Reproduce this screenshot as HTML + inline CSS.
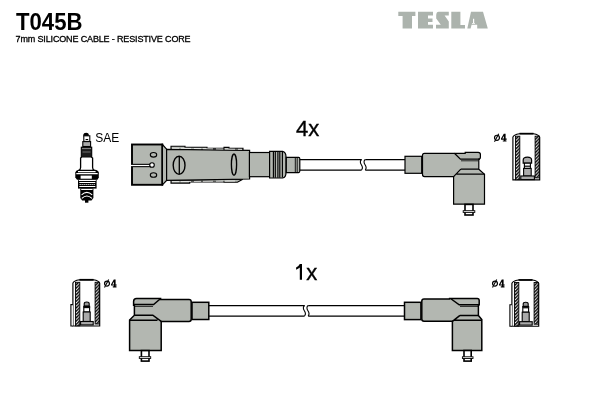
<!DOCTYPE html>
<html><head><meta charset="utf-8">
<style>
html,body{margin:0;padding:0;background:#fff;width:600px;height:400px;overflow:hidden}
svg{display:block;will-change:transform}
text{font-family:"Liberation Sans",sans-serif}
</style></head><body>
<svg width="600" height="400" viewBox="0 0 600 400">
<rect width="600" height="400" fill="#fff"/>
<!-- header -->
<text x="16" y="30" font-size="23" font-weight="bold" textLength="66.5" lengthAdjust="spacingAndGlyphs" fill="#000">T045B</text>
<text x="15.6" y="41.8" font-size="9" textLength="175" lengthAdjust="spacing" fill="#000" stroke="#000" stroke-width="0.3">7mm SILICONE CABLE - RESISTIVE CORE</text>
<!-- TESLA logo -->
<g fill="#acb3ad">
  <path d="M398.3 11.8H415.4V16H412V28.4H402.6V16H398.3Z"/>
  <path d="M418 11.8H433V15.5H428V18.6H432.5V22.1H428V24.8H433V28.4H418Z"/>
  <path d="M438.6 11.8H448.8V15.5H444.6L448.8 21.6V28.4H436V24.8H440.8L436.2 18.6V15.2Q436.4 11.8 438.6 11.8Z"/>
  <path d="M451.3 11.8H460.4V24.9H465V28.4H451.3Z"/>
  <path fill-rule="evenodd" d="M471 11.8H483L487.8 28.4H477.2V24.8H471.6L470.6 28.4H467.3ZM473 18.7H474.2V23H475V23.8H472V23H473Z"/>
</g>

<!-- ===== top row ===== -->
<!-- spark plug -->
<g stroke="#000" fill="#fff">
  <path d="M83.4 136.5V134.6Q83.4 132.7 86.1 132.7Q88.8 132.7 88.8 134.6V136.5Z" fill="#000" stroke="none"/>
  <rect x="83.8" y="135.8" width="6" height="5.6" stroke-width="1.1"/>
  <path d="M85.6 139.5H88.2" stroke-width="1"/>
  <rect x="82.8" y="141.6" width="7.8" height="4.9" stroke-width="1.1" fill="#a9a9a9"/>
  <rect x="81.3" y="147.2" width="10.4" height="10" fill="#1a1a1a" stroke-width="1.1"/>
  <path d="M82 148.6H91" stroke="#aaa" stroke-width="0.8"/>
  <path d="M82.5 152H90.5" stroke="#555" stroke-width="1.5"/>
  <path d="M78.6 170.6Q80.6 169.8 80.6 167.5V158L82 156.8H91L92.6 158V167.5Q92.6 169.8 94.6 170.6" stroke-width="1.3"/>
  <path d="M78.5 169.8H95Q98.4 170.3 98.8 172.5V177.5L97.5 179.8H77L75.3 177.5V172.5Q75.7 170.3 78.5 169.8Z" fill="#000" stroke="none"/>
  <path d="M78 171.6H95.6M76.3 173.7H97.7" stroke="#fff" stroke-width="1.3"/>
  <rect x="80.6" y="175.6" width="11.2" height="3.1" fill="#fff" stroke="none"/>
  <path d="M78 179.6H96.6V188.6H78Z" fill="#000" stroke="none"/>
  <path d="M78.8 180.5H95.8M79.3 182.5H95.3M79.3 186.5H95.3" stroke="#fff" stroke-width="1"/>
  <path d="M79.6 184.5H95.5" stroke="#fff" stroke-width="1" stroke-dasharray="1.1 0.9"/>
  <path d="M80.3 188.4H93.4V198L91.5 200.6H82.2L80.3 198Z" fill="#000" stroke="none"/>
  <path d="M81.2 189.5H92.6" stroke="#fff" stroke-width="1"/>
  <path d="M81.6 194.8Q86.8 189.8 92.2 194.8M81.8 198.4Q86.8 193.6 92 198.4" stroke="#fff" stroke-width="1.1" fill="none"/>
  <rect x="85" y="200" width="3.4" height="2.7" fill="#000" stroke="none"/>
</g>
<text x="95.3" y="142" font-size="12" fill="#000">SAE</text>

<!-- straight boot -->
<g stroke="#000" fill="#b3b7b1">
  <rect x="132" y="144.5" width="30.3" height="40.3" stroke-width="1.9"/>
  <path d="M132 165.5H151" stroke="#000" stroke-width="3.4"/>
  <path d="M130 165.5H151" stroke="#fff" stroke-width="1.2"/>
  <circle cx="152" cy="165" r="2.3" fill="#fff" stroke-width="1.1"/>
  <ellipse cx="153.5" cy="154.8" rx="3.2" ry="2.3" stroke-width="1.1"/>
  <ellipse cx="153.5" cy="175" rx="3.2" ry="2.3" stroke-width="1.1"/>
  <path d="M162.4 144.5L166.6 149.2V180.5L162.4 184.8Z" stroke-width="1.2"/>
  <path d="M171 150V146.2H185V147.3H207V148.2H224V147.4H229V148.3H243V150.6Z" stroke-width="1.1"/>
  <path d="M171 180.4V183.1H189.7V182H224V182.3H237.4L242.8 179.2Z" stroke-width="1.1"/>
  <path d="M166.6 149.4L249.6 150.4V179L166.6 180.4Z" stroke-width="1.2"/>
  <path d="M172 148.1L242 149.4M172 181.7L237 181" stroke="#fff" stroke-width="0.7" stroke-dasharray="7 2 10 3"/>
  <ellipse cx="179.1" cy="165.3" rx="5.9" ry="9.1" stroke-width="1.4"/>
  <path d="M179.3 156.8V174" stroke-width="1.3"/>
  <ellipse cx="234" cy="164.6" rx="2.6" ry="10.6" stroke-width="1.35"/>
  <rect x="249.4" y="152.5" width="20.6" height="24.2" stroke-width="1.2"/>
  <path d="M269.6 151.4H282.6Q286 152 286 157V172.4Q286 177.4 282.6 178H269.6Z" stroke-width="1.2"/>
  <path d="M273.4 151.6V177.8M275.3 151.6V177.8M277.9 151.6V177.8M279.8 151.6V177.8M282.4 151.8V177.6" stroke-width="1.15"/>
  <path d="M286.3 157.3H298.6Q299.8 157.3 299.8 158.8V171.1Q299.8 172.6 298.6 172.6H286.3Z" stroke-width="1.2"/>
  <path d="M295.3 157.3V172.6M297.2 157.6V172.3" stroke-width="0.9"/>
</g>
<!-- cable top -->
<g stroke="#000" stroke-width="1.25" fill="none">
  <path d="M299.8 159.5H361.6M365.3 159.5H405M299.8 170H361.6M365.3 170H405"/>
  <path d="M361.6 159.5C360 160.5 360 162.8 361.2 164.5C362.4 166.2 362.6 168.8 361.5 170M365.3 159.5C363.7 160.5 363.7 162.8 364.9 164.5C366.1 166.2 366.3 168.8 365.2 170" stroke-width="1.1"/>
</g>
<!-- right elbow top -->
<g stroke="#000" fill="#b3b7b1" stroke-width="1.2">
  <rect x="405" y="156.3" width="16.7" height="17" />
  <path d="M424.5 153.3H465.2V152.4H478.2Q480.4 152.4 480.4 154.6V157Q480.4 159.2 478.8 159.2V169.2L484.5 174.2V204.2H453.6V176.6H424.5Q422.5 176.6 422.5 174.6V155.3Q422.5 153.3 424.5 153.3Z"/>
  <path d="M454.4 153.3L460.4 159.2H480M460.8 169.2H478.8M460.8 169.2L453.6 176.6M456.5 174.2H484.5" fill="none"/>
  <path d="M461 160.8H478.4" fill="none" stroke-width="0.8"/>
</g>
<g stroke="#000" fill="#fff">
  <rect x="465" y="204.4" width="8" height="10.6" stroke-width="1.6"/>
  <rect x="463.2" y="210.7" width="11.6" height="1.7" stroke-width="0.9"/>
</g>
<!-- terminals -->
<defs>
  <pattern id="hatch" patternUnits="userSpaceOnUse" width="3.3" height="3.3">
    <rect width="3.3" height="3.3" fill="#fff"/>
    <path d="M-0.825 0.825L0.825 -0.825M0 3.3L3.3 0M2.475 4.125L4.125 2.475" stroke="#000" stroke-width="1.35"/>
  </pattern>
  <g id="term">
    <path d="M0.9 47V4.2Q1.6 1.7 7.5 0.8H21.5Q26.9 1.7 27.7 4.2V47Z" fill="#fff" stroke="#000" stroke-width="1.15"/>
    <path d="M7.5 0.75H21.5" stroke="#000" stroke-width="1.7"/>
    <rect x="3.5" y="3.3" width="4.3" height="43.5" fill="url(#hatch)" stroke="#000" stroke-width="0.9"/>
    <rect x="23.1" y="3.3" width="4.2" height="41.7" fill="url(#hatch)" stroke="#000" stroke-width="0.9"/>
  </g>
  <g id="pinA">
    <path d="M11.2 30.3V27.2Q11.2 24.3 15.4 24.3Q19.6 24.3 19.6 27.2V30.3Z" fill="#aaa" stroke="#000" stroke-width="1.2"/>
    <rect x="12.4" y="30.3" width="6" height="5.2" fill="#fff" stroke="#000" stroke-width="1.1"/>
    <path d="M12 33.3H18.8" stroke="#000" stroke-width="1.2"/>
    <rect x="11.6" y="35.5" width="7.6" height="7.6" fill="#aaa" stroke="#000" stroke-width="1.1"/>
    <rect x="8.8" y="43.1" width="13.6" height="3.6" fill="#aaa" stroke="#000" stroke-width="1.1"/>
  </g>
  <g id="pinB">
    <path d="M12.2 27V24.8Q12.2 23 14.7 23Q17.2 23 17.2 24.8V27Z" fill="#999" stroke="#000" stroke-width="1.1"/>
    <rect x="11.2" y="26.8" width="7" height="1.8" fill="#000"/>
    <rect x="11.8" y="28.6" width="5.8" height="4.4" fill="#fff" stroke="#000" stroke-width="1.1"/>
    <rect x="11.2" y="33" width="7" height="9.5" fill="#aaa" stroke="#000" stroke-width="1.1"/>
    <rect x="8.6" y="42.5" width="12.6" height="3.4" fill="#aaa" stroke="#000" stroke-width="1.1"/>
  </g>
  <g id="step"><path d="M0.9 25.6H-1.1V47H0.9" fill="#fff" stroke="#000" stroke-width="1.1"/></g>
</defs>
<use href="#term" transform="translate(512 132.9)"/>
<use href="#pinA" transform="translate(512 132.9)"/>
<use href="#term" transform="translate(72 279)"/>
<use href="#step" transform="translate(72 279)"/>
<use href="#pinB" transform="translate(72 279)"/>
<use href="#term" transform="translate(511 279.2)"/>
<use href="#step" transform="translate(511 279.2)"/>
<use href="#pinB" transform="translate(511 279.2)"/>
<defs><g id="phi4">
  <ellipse cx="2.9" cy="-3.8" rx="2.45" ry="2.55" fill="none" stroke="#000" stroke-width="1.2"/>
  <path d="M4.6 -7.8L0.4 0.2" stroke="#000" stroke-width="1.1"/>
  <path fill-rule="evenodd" d="M9.7 -7.8H11.5V-3H12.6V-1.9H11.5V-1.1H12.4V0H8.7V-1.1H9.8V-1.9H6.9V-3ZM9.8 -3V-5.7L8.2 -3Z" fill="#000"/>
</g></defs>
<use href="#phi4" transform="translate(494.1 141.6)"/>
<use href="#phi4" transform="translate(104.1 287.4)"/>
<use href="#phi4" transform="translate(492.1 287.4)"/>
<text x="295.9" y="136" font-size="22" fill="#000" stroke="#000" stroke-width="0.35">4x</text>
<path d="M299.8 264.1H302V279.8H299.8V267.6Q298.2 269 296.1 269.8V267.6Q298.7 266.3 299.8 264.1Z" fill="#000"/>
<text x="306.3" y="279.6" font-size="22" fill="#000" stroke="#000" stroke-width="0.35">x</text>

<!-- ===== bottom row ===== -->
<!-- cable bottom -->
<g stroke="#000" stroke-width="1.25" fill="none">
  <path d="M208.8 305.5H304.6M308.2 305.5H404.5M208.8 316H304.6M308.2 316H404.5"/>
  <path d="M304.6 305.5C303 306.5 303 308.8 304.2 310.5C305.4 312.2 305.6 314.8 304.5 316M308.2 305.5C306.6 306.5 306.6 308.8 307.8 310.5C309 312.2 309.2 314.8 308.1 316" stroke-width="1.1"/>
</g>
<!-- left elbow bottom -->
<g stroke="#000" fill="#b3b7b1" stroke-width="1.5">
  <rect x="192" y="302.3" width="16.8" height="17.2"/>
  <path d="M189 299.6H160.6V298.4H136.6Q133.6 298.4 133.6 301.4V305.2H134.4V315.2L129.6 320V350.6H161.2V321.4H189Q191.2 321.4 191.2 319.2V301.8Q191.2 299.6 189 299.6Z"/>
  <path d="M160.4 298.8L153.6 304.6H133.6M134.4 315.2H152.8L161.2 321.4M129.6 320.2H157.5" fill="none"/>
  <path d="M134.6 306.4H153" fill="none" stroke-width="0.8"/>
</g>
<g stroke="#000" fill="#fff">
  <rect x="141.4" y="350.6" width="7.6" height="10.5" stroke-width="1.6"/>
  <rect x="139.3" y="356.7" width="11.4" height="1.7" stroke-width="0.9"/>
</g>
<!-- right elbow bottom -->
<g stroke="#000" fill="#b3b7b1" stroke-width="1.5">
  <rect x="404.5" y="302.3" width="16.4" height="17.3"/>
  <path d="M424 299H449.6V298.4H477.2Q479.2 298.4 479.2 300.6V304.8H478.4V315.4L481.8 319.6V350.5H452.4V321.3H424Q421.8 321.3 421.8 319.1V301.2Q421.8 299 424 299Z"/>
  <path d="M451.2 299L459.2 304.8H479.2M460 315.4H478.4M460 315.4L452.4 321.3M453.5 320.2H481.8" fill="none"/>
  <path d="M460 306.4H478.4" fill="none" stroke-width="0.8"/>
</g>
<g stroke="#000" fill="#fff">
  <rect x="464" y="350.5" width="7.2" height="10.6" stroke-width="1.6"/>
  <rect x="462.4" y="356.8" width="10.6" height="1.7" stroke-width="0.9"/>
</g>
</svg>
</body></html>
